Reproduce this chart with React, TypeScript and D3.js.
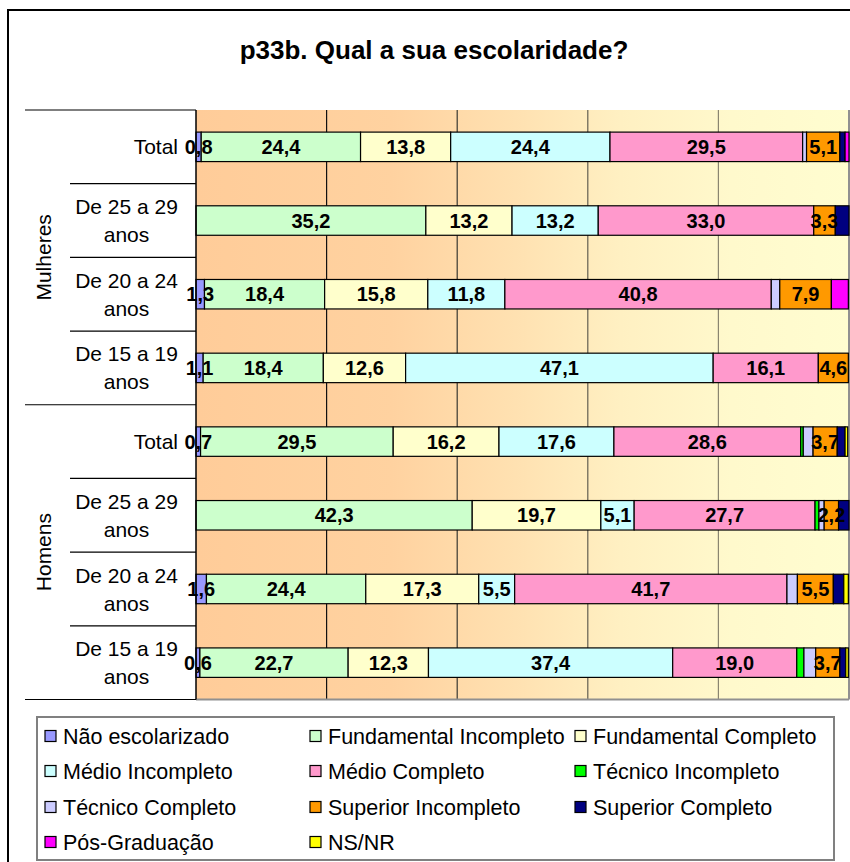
import React from "react";
import * as d3 from "d3";

const title = "p33b. Qual a sua escolaridade?";
const groups = ["Mulheres", "Homens"];
const categoryLines = [
  ["Total"],
  ["De 25 a 29", "anos"],
  ["De 20 a 24", "anos"],
  ["De 15 a 19", "anos"],
  ["Total"],
  ["De 25 a 29", "anos"],
  ["De 20 a 24", "anos"],
  ["De 15 a 19", "anos"],
];
const seriesNames = [
  "Não escolarizado",
  "Fundamental Incompleto",
  "Fundamental Completo",
  "Médio Incompleto",
  "Médio Completo",
  "Técnico Incompleto",
  "Técnico Completo",
  "Superior Incompleto",
  "Superior Completo",
  "Pós-Graduação",
  "NS/NR",
];
const seriesColors = [
  "#9999FF", "#CCFFCC", "#FFFFCC", "#CCFFFF", "#FF99CC", "#00FF00",
  "#CCCCFF", "#FF9900", "#000080", "#FF00FF", "#FFFF00",
];
const naoEscolarizado = [0.8, 0, 1.3, 1.1, 0.7, 0, 1.6, 0.6];
const fundIncompleto = [24.4, 35.2, 18.4, 18.4, 29.5, 42.3, 24.4, 22.7];
const fundCompleto = [13.8, 13.2, 15.8, 12.6, 16.2, 19.7, 17.3, 12.3];
const medioIncompleto = [24.4, 13.2, 11.8, 47.1, 17.6, 5.1, 5.5, 37.4];
const medioCompleto = [29.5, 33.0, 40.8, 16.1, 28.6, 27.7, 41.7, 19.0];
const tecnicoIncompleto = [0, 0, 0, 0, 0.4, 0.6, 0, 1.1];
const tecnicoCompleto = [0.6, 0, 1.3, 0, 1.5, 0.8, 1.6, 1.8];
const superiorIncompleto = [5.1, 3.3, 7.9, 4.6, 3.7, 2.2, 5.5, 3.7];
const superiorCompleto = [0.8, 2.1, 0, 0, 1.2, 1.6, 1.6, 0.9];
const posGraduacao = [0.6, 0, 2.6, 0, 0, 0, 0, 0];
const nsNr = [0, 0, 0, 0, 0.4, 0, 0.7, 0.4];
const labelledSeries = [0, 1, 2, 3, 4, 7];
const xTicks = [0, 20, 40, 60, 80, 100];

const seriesValues = [
  naoEscolarizado, fundIncompleto, fundCompleto, medioIncompleto, medioCompleto,
  tecnicoIncompleto, tecnicoCompleto, superiorIncompleto, superiorCompleto, posGraduacao, nsNr,
];

const FONT = "'Liberation Sans', Arial, sans-serif";

export default function App() {
  const W = 850, H = 862;
  const plotL = 196, plotR = 849, plotT = 110, plotB = 699.5;
  const rows = categoryLines.map((_, i) => {
    const r: any = { idx: i };
    seriesNames.forEach((s, j) => (r[s] = seriesValues[j][i]));
    return r;
  });
  const stacked = d3.stack<any>().keys(seriesNames)(rows);
  const x = d3.scaleLinear().domain([0, 100]).range([plotL, plotR]);
  const y = d3.scaleBand<number>()
    .domain(d3.range(categoryLines.length))
    .range([plotT, plotB])
    .paddingInner(0.6)
    .paddingOuter(0.3);
  const step = y.step();
  const gridColor = d3.interpolateRgb("#111111", "#8a8570");
  const fmt = (v: number) => v.toFixed(1).replace(".", ",");

  const legendCols = [45, 310, 575];
  const legendRows = [736, 771, 807, 842];

  return (
    <svg width={W} height={H} style={{ position: "absolute", left: 0, top: 0, background: "#fff" }} fontFamily={FONT}>
      <defs>
        <linearGradient id="bg" x1="0" x2="1" y1="0" y2="0">
          <stop offset="0" stopColor="#FFCC99" />
          <stop offset="0.3" stopColor="#FFD2A0" />
          <stop offset="0.5" stopColor="#FFE2B2" />
          <stop offset="0.65" stopColor="#FFF0C2" />
          <stop offset="0.82" stopColor="#FFF9CC" />
          <stop offset="1" stopColor="#FFFDD0" />
        </linearGradient>
      </defs>
      <rect x={8} y={10} width={900} height={900} fill="#fff" stroke="#000" strokeWidth={2} />
      <text x={434} y={59} textAnchor="middle" fontSize={26} fontWeight="bold">{title}</text>

      <rect x={plotL} y={plotT} width={plotR - plotL} height={plotB - plotT} fill="url(#bg)" />
      {xTicks.slice(1, -1).map((t, i) => (
        <line key={t} x1={x(t)} x2={x(t)} y1={plotT} y2={plotB} stroke={gridColor(i / 3)} strokeWidth={1.2} />
      ))}
      <line x1={plotR} x2={plotR} y1={plotT} y2={plotB} stroke="#909090" strokeWidth={2} />
      <line x1={plotL} x2={plotR} y1={plotB} y2={plotB} stroke="#909090" strokeWidth={2} />

      {stacked.map((s, j) => (
        <g key={s.key}>
          {s.map((d, i) =>
            d[1] - d[0] > 0 ? (
              <rect key={i} x={x(d[0])} y={y(i)} width={x(d[1]) - x(d[0])} height={y.bandwidth()}
                fill={seriesColors[j]} stroke="#000" strokeWidth={1.2} />
            ) : null
          )}
        </g>
      ))}
      {stacked.map((s, j) =>
        labelledSeries.includes(j) ? (
          <g key={"l" + s.key}>
            {s.map((d, i) =>
              d[1] - d[0] > 0 ? (
                <text key={i} x={(x(d[0]) + x(d[1])) / 2} y={(y(i) as number) + y.bandwidth() / 2} dy="0.36em"
                  textAnchor="middle" fontSize={20} fontWeight="bold">{fmt(d[1] - d[0])}</text>
              ) : null
            )}
          </g>
        ) : null
      )}

      <line x1={plotL} x2={plotL} y1={plotT} y2={plotB} stroke="#000" strokeWidth={1.5} />
      {d3.range(categoryLines.length + 1).map((k) => {
        const yy = plotT + k * step;
        const full = k % 4 === 0;
        return <line key={k} x1={full ? 25 : 70} x2={plotL} y1={yy} y2={yy} stroke="#000" strokeWidth={1.2} />;
      })}
      {categoryLines.map((lines, i) => {
        const cy = (y(i) as number) + y.bandwidth() / 2;
        if (lines.length === 1) {
          return <text key={i} x={178} y={cy} dy="0.36em" textAnchor="end" fontSize={21}>{lines[0]}</text>;
        }
        return (
          <g key={i}>
            {lines.map((ln, k) => (
              <text key={k} x={126.5} y={cy + (k - 0.5) * 28} dy="0.36em" textAnchor="middle" fontSize={21}>{ln}</text>
            ))}
          </g>
        );
      })}
      {groups.map((g, gi) => {
        const cy = plotT + (gi * 4 + 2) * step;
        return (
          <text key={g} transform={`translate(43,${cy}) rotate(-90)`} dy="0.36em" textAnchor="middle" fontSize={21}>{g}</text>
        );
      })}

      <rect x={37} y={717} width={797} height={143} fill="#fff" stroke="#808080" strokeWidth={2} />
      {seriesNames.map((s, j) => {
        const cx = legendCols[j % 3];
        const cy = legendRows[Math.floor(j / 3)];
        return (
          <g key={s}>
            <rect x={cx} y={cy - 5.5} width={11} height={11} fill={seriesColors[j]} stroke="#000" strokeWidth={1.2} />
            <text x={cx + 18} y={cy} dy="0.36em" fontSize={21.5}>{s}</text>
          </g>
        );
      })}
    </svg>
  );
}
